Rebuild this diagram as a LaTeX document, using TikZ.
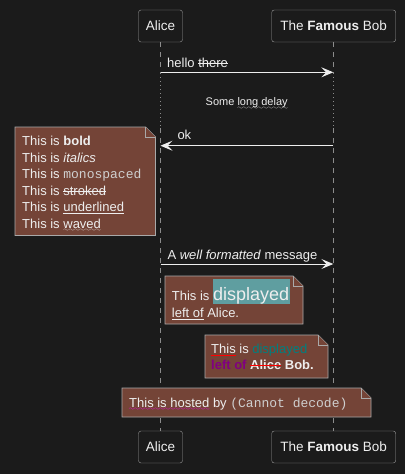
\documentclass[tikz,border=0pt]{standalone}
\usepackage{fontspec}
\setmainfont{Liberation Sans}
\setmonofont{Liberation Mono}
\usetikzlibrary{arrows.meta}
\definecolor{bg}{HTML}{1B1B1B}
\definecolor{fg}{HTML}{EEEEEE}
\definecolor{mono}{HTML}{CFCFCF}
\definecolor{life}{HTML}{8C8C8C}
\definecolor{pborder}{HTML}{9A9A9A}
\definecolor{notefill}{HTML}{744437}
\definecolor{noteline}{HTML}{A9A9A9}
\definecolor{cadet}{HTML}{5F9EA0}
\definecolor{tealc}{HTML}{008080}
\definecolor{purp}{HTML}{800080}
\definecolor{magc}{HTML}{FF00FF}
\font\wavefont=lasy6
\newsavebox\ulbox
% color, raise, thickness, text
\newcommand\lineover[4]{\leavevmode\sbox\ulbox{#4}\rlap{\usebox\ulbox}\textcolor{#1}{\rule[#2]{\wd\ulbox}{#3}}}
\newcommand\ulin[1]{\lineover{.}{-2.4pt}{0.9pt}{#1}}
\newcommand\strk[1]{\lineover{.}{3.4pt}{0.9pt}{#1}}
\newcommand\wavy[2]{\leavevmode\sbox\ulbox{#2}\rlap{\usebox\ulbox}\textcolor{#1}{\lower3.5pt\hbox to\wd\ulbox{\xleaders\hbox{\wavefont\char58}\hfil}}}
\newcommand\dogear[4]{%
  \filldraw[notebox] (#1,#2) -- (#3-10,#2) -- (#3,#2+10) -- (#3,#4) -- (#1,#4) -- cycle;
  \draw[notebox] (#3-10,#2) -- (#3-10,#2+10) -- (#3,#2+10);}
\tikzset{
  part/.style={draw=pborder, fill=bg, rounded corners=2.5pt, text=fg, inner sep=0pt,
    minimum height=32pt, font=\fontsize{13.5}{15}\selectfont},
  lifedash/.style={draw=life, line width=0.8pt, dash pattern=on 5pt off 5pt},
  lifedot/.style={draw=life, line width=0.8pt, dash pattern=on 1pt off 3pt},
  msg/.style={draw=fg, line width=0.9pt, -{Stealth[length=12pt,width=10pt,inset=5pt]}},
  msgtext/.style={text=fg, inner sep=0pt, anchor=base west, font=\fontsize{13}{16}\selectfont},
  notebox/.style={fill=notefill, draw=noteline, line width=0.8pt},
  notetext/.style={text=fg, inner sep=0pt, anchor=base west},
}
\begin{document}
\begin{tikzpicture}[x=1pt, y=-1pt]
\fill[bg] (0,0) rectangle (405,474);
\useasboundingbox (0,0) rectangle (405,474);

% participants
\node[part, minimum width=44pt] (aliceT) at (160.5,26) {Alice};
\node[part, minimum width=124pt] (bobT) at (333.7,26) {The \textbf{Famous} Bob};
\node[part, minimum width=44pt] (aliceB) at (160.5,447) {Alice};
\node[part, minimum width=124pt] (bobB) at (333.7,447) {The \textbf{Famous} Bob};

% lifelines
\coordinate (aD1) at (160.5,73);
\coordinate (aD2) at (160.5,128);
\coordinate (bD1) at (333.3,73);
\coordinate (bD2) at (333.3,128);
\draw[lifedash] (aliceT.south) -- (aD1);
\draw[lifedot] (aD1) -- (aD2);
\draw[lifedash] (aD2) -- (aliceB.north);
\draw[lifedash] (bD1 |- bobT.south) -- (bD1);
\draw[lifedot] (bD1) -- (bD2);
\draw[lifedash] (bD2) -- (bD2 |- bobB.north);

% message 1
\coordinate (a1) at (160.5,72.3);
\coordinate (b1) at (333.3,72.3);
\draw[msg] (a1) -- (b1);
\node[msgtext] (m1) at (167,67.3) {hello \strk{there}};

% delay
\node[text=fg, inner sep=0pt, anchor=base, font=\fontsize{11}{13}\selectfont] (delay) at (246.7,105.5) {Some \wavy{fg}{long delay}};

% message 2
\coordinate (a2) at (160.5,145.7);
\coordinate (b2) at (333.3,145.7);
\draw[msg] (b2) -- (a2);
\node[msgtext] (m2) at (177.3,139.3) {ok};

% note 1
\dogear{15}{127}{155.5}{235.5}
\node[notetext] (n1) at (22,145.5) {\parbox[t]{130pt}{\fontsize{13}{16.55}\selectfont
This is \textbf{bold}\\
This is \textit{italics}\\
This is \textcolor{mono}{\texttt{monospaced}}\\
This is \strk{stroked}\\
This is \ulin{underlined}\\
This is \wavy{fg}{waved}}};

% message 3
\coordinate (a3) at (160.5,264);
\coordinate (b3) at (333.3,264);
\draw[msg] (a3) -- (b3);
\node[msgtext] (m3) at (167.3,259) {A \textit{well formatted} message};

% note 2
\dogear{165}{276}{303}{324}
\node[notetext] (n2) at (171.7,300.7) {\parbox[t]{130pt}{\fontsize{13}{17}\selectfont\setlength\fboxsep{0pt}%
This is \colorbox{cadet}{\rule[-1.6pt]{0pt}{23pt}\fontsize{18}{18}\selectfont displayed\kern1pt}\\
\ulin{left of} Alice.}};

% note 3
\dogear{205}{335}{328}{378}
\node[notetext] (n3) at (211,353.3) {\parbox[t]{120pt}{\fontsize{13}{16}\selectfont
\lineover{red}{-2.6pt}{1.1pt}{This} is \textcolor{tealc}{displayed}\\
\textbf{\textcolor{purp}{left of} \lineover{red}{3.4pt}{1.1pt}{Alice} Bob.}}};

% note 4
\dogear{122}{388}{371}{417}
\node[notetext, font=\fontsize{13}{16}\selectfont] (n4) at (129,407) {\wavy{magc}{This is hosted} by \textcolor{mono}{\texttt{(Cannot decode)}}};
\end{tikzpicture}
\end{document}
